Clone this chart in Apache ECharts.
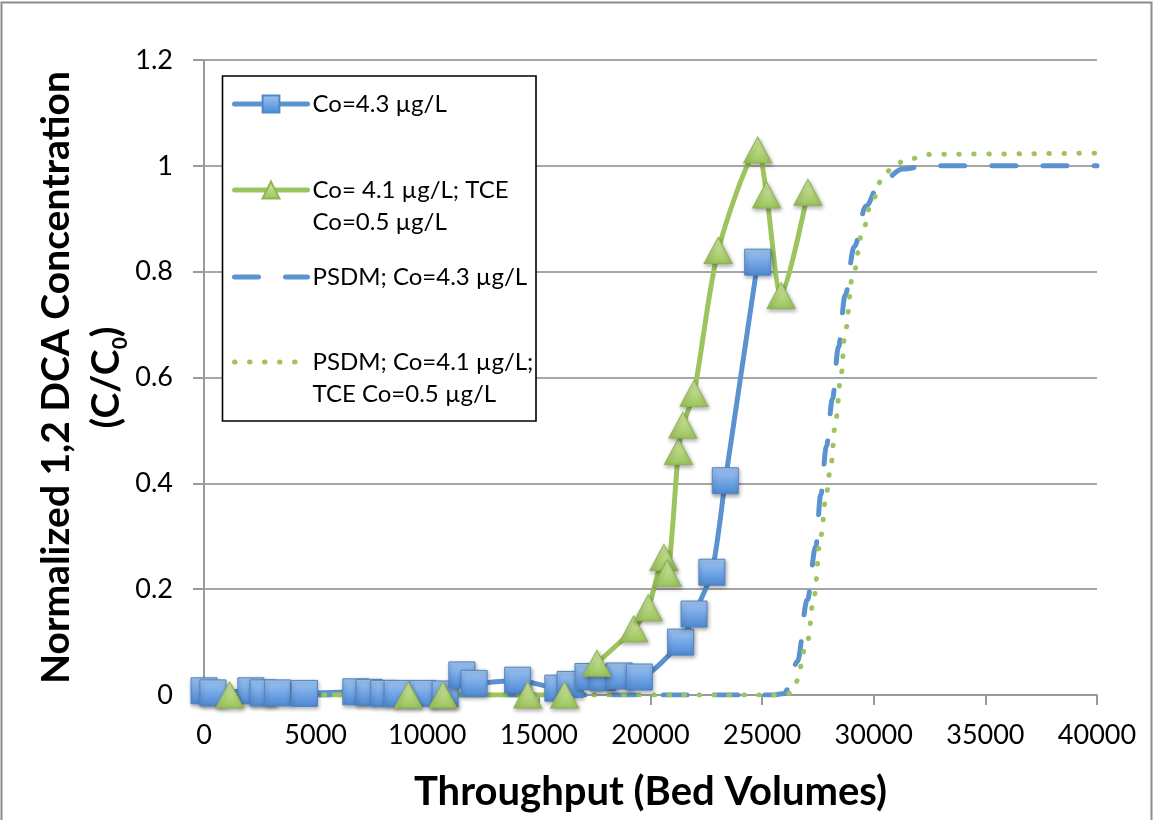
<!DOCTYPE html>
<html><head><meta charset="utf-8">
<script src="https://cdn.jsdelivr.net/npm/echarts@6/dist/echarts.min.js"></script>
<style>html,body{margin:0;padding:0;background:#fff}#c{width:1154px;height:820px}</style>
</head><body><div id="c"></div>
<script>
// ---- data ----
const seriesNames = ['Co=4.3 µg/L', 'Co= 4.1 µg/L; TCE Co=0.5 µg/L', 'PSDM; Co=4.3 µg/L', 'PSDM; Co=4.1 µg/L; TCE Co=0.5 µg/L'];
const legendLabels = ['Co=4.3 µg/L', '\nCo= 4.1 µg/L; TCE\nCo=0.5 µg/L', 'PSDM; Co=4.3 µg/L', '\nPSDM; Co=4.1 µg/L;\nTCE Co=0.5 µg/L'];
const xTicks = [0, 5000, 10000, 15000, 20000, 25000, 30000, 35000, 40000];
const yTicks = [0, 0.2, 0.4, 0.6, 0.8, 1, 1.2];

const blueBV = [0, 400, 2100, 2650, 3300, 4500, 6800, 7400, 8050, 8650, 9800, 10800, 11550, 12100, 14050, 15850, 16400, 17200, 17850, 18600, 19500, 21350, 21950, 22750, 23350, 24800];
const blueC  = [0.008, 0.004, 0.008, 0.004, 0.004, 0.003, 0.006, 0.005, 0.003, 0.003, 0.003, 0.002, 0.038, 0.022, 0.028, 0.013, 0.02, 0.035, 0.033, 0.036, 0.034, 0.10, 0.153, 0.232, 0.405, 0.818];

const greenBV = [1150, 9150, 10700, 14500, 16150, 17600, 19250, 19900, 20600, 20750, 21250, 21450, 21950, 23030, 24800, 25200, 25850, 27050];
const greenC  = [0, 0, 0, 0, 0, 0.06, 0.125, 0.165, 0.26, 0.23, 0.46, 0.51, 0.57, 0.84, 1.03, 0.945, 0.755, 0.95];

const psdmBlueBV = [0, 10000, 20000, 25500, 26000, 26125, 26575, 27025, 27400, 27625, 27880, 28150, 28420, 28720, 29125, 29650, 30250, 31300, 32350, 40000];
const psdmBlueC  = [0, 0, 0, 0, 0.003, 0.01, 0.063, 0.18, 0.28, 0.378, 0.47, 0.56, 0.658, 0.756, 0.847, 0.924, 0.966, 0.994, 1.0, 1.0];

const psdmGreenBV = [0, 10000, 20000, 25800, 26200, 26500, 27025, 27325, 27625, 27880, 28075, 28300, 28525, 28720, 29050, 29500, 29875, 30400, 30850, 31450, 32650, 40000];
const psdmGreenC  = [0, 0, 0, 0, 0.003, 0.024, 0.10, 0.186, 0.30, 0.38, 0.434, 0.52, 0.60, 0.686, 0.79, 0.875, 0.928, 0.977, 0.998, 1.012, 1.022, 1.024];

const zip = (a, b) => a.map((v, i) => [v, b[i]]);

// ---- styles ----
const BLUE = '#5B93D1', GREEN = '#9DC45F', FONT = 'Lato';
const sqFill = {type: 'linear', x: 0, y: 0, x2: 0, y2: 1, colorStops: [{offset: 0, color: '#a3c7f2'}, {offset: 0.5, color: '#74a7e6'}, {offset: 1, color: '#4e88d2'}]};
const trFill = {type: 'linear', x: 0, y: 0, x2: 0, y2: 1, colorStops: [{offset: 0, color: '#d4ecaa'}, {offset: 1, color: '#9cc45a'}]};
const shadow = {shadowBlur: 4, shadowColor: 'rgba(0,0,0,0.35)', shadowOffsetX: 1, shadowOffsetY: 2};

const chart = echarts.init(document.getElementById('c'), null, {renderer: 'canvas'});

function mkLegend(i, top, noSymbol) {
  const lg = {
    data: [seriesNames[i]], orient: 'vertical', left: 232, top: top, padding: 0,
    itemWidth: 73, itemHeight: 21, selectedMode: false,
    formatter: () => legendLabels[i],
    lineStyle: {width: 5, cap: 'round'},
    textStyle: {fontFamily: FONT, fontSize: 24, color: '#000', lineHeight: 32}
  };
  if (noSymbol) lg.itemStyle = {color: 'rgba(0,0,0,0)', borderColor: 'rgba(0,0,0,0)', borderWidth: 0, shadowBlur: 0, shadowColor: 'rgba(0,0,0,0)'};
  return lg;
}

chart.setOption({
  animation: false,
  textStyle: {fontFamily: FONT},
  grid: {left: 204, right: 57, top: 60, bottom: 125, outerBoundsMode: 'none'},
  graphic: [
    {type: 'rect', z: 0, silent: true, shape: {x: 1.5, y: 2.5, width: 1150, height: 830}, style: {fill: 'none', stroke: '#8c8c8c', lineWidth: 2}},
    {type: 'rect', z: 3, silent: true, shape: {x: 222.5, y: 76, width: 313.5, height: 345}, style: {fill: '#fff', stroke: '#000', lineWidth: 1.6}}
  ],
  legend: [mkLegend(0, 88, false), mkLegend(1, 142, false), mkLegend(2, 261, true), mkLegend(3, 314, true)],
  xAxis: {
    type: 'value', min: xTicks[0], max: xTicks[xTicks.length - 1], interval: xTicks[1] - xTicks[0],
    name: 'Throughput (Bed Volumes)', nameLocation: 'middle', nameGap: 77, nameMoveOverlap: false,
    nameTextStyle: {fontFamily: FONT, fontSize: 40, fontWeight: 'bold', color: '#000'},
    axisLine: {show: true, lineStyle: {color: '#9a9a9a', width: 2}},
    axisTick: {show: true, length: 10, lineStyle: {color: '#9a9a9a', width: 2}},
    axisLabel: {margin: 27, fontFamily: FONT, fontSize: 27, color: '#000', formatter: v => String(v)},
    splitLine: {show: false}
  },
  yAxis: {
    type: 'value', min: yTicks[0], max: yTicks[yTicks.length - 1], interval: yTicks[1] - yTicks[0],
    name: 'Normalized 1,2 DCA Concentration\n(C/C{sub|0})', nameLocation: 'middle', nameGap: 73, nameMoveOverlap: false,
    nameTextStyle: {fontFamily: FONT, fontSize: 39, fontWeight: 'bold', color: '#000', lineHeight: 50,
      rich: {sub: {fontFamily: FONT, fontSize: 21, fontWeight: 'bold', color: '#000', verticalAlign: 'bottom', lineHeight: 34}}},
    axisLine: {show: true, lineStyle: {color: '#9a9a9a', width: 2}},
    axisTick: {show: true, length: 11, lineStyle: {color: '#9a9a9a', width: 2}},
    axisLabel: {margin: 31, fontFamily: FONT, fontSize: 27, color: '#000'},
    splitLine: {show: true, lineStyle: {color: '#a6a6a6', width: 2}}
  },
  series: [
    {name: seriesNames[0], type: 'line', data: zip(blueBV, blueC), smooth: 0.25, color: BLUE,
     symbol: 'rect', symbolSize: 26, showSymbol: true,
     lineStyle: {color: BLUE, width: 5},
     itemStyle: Object.assign({color: sqFill, borderColor: '#4f86c6', borderWidth: 1}, shadow)},
    {name: seriesNames[1], type: 'line', data: zip(greenBV, greenC), smooth: 0.25, color: GREEN,
     symbol: 'triangle', symbolSize: [28, 26], showSymbol: true,
     lineStyle: {color: GREEN, width: 5},
     itemStyle: Object.assign({color: trFill, borderColor: '#8fb552', borderWidth: 1}, shadow)},
    {name: seriesNames[2], type: 'line', data: zip(psdmBlueBV, psdmBlueC), smooth: 0.35, smoothMonotone: 'x', color: BLUE,
     symbol: 'none', showSymbol: false,
     lineStyle: {color: BLUE, width: 5, type: [24, 27], cap: 'round'}},
    {name: seriesNames[3], type: 'line', data: zip(psdmGreenBV, psdmGreenC), smooth: 0.35, smoothMonotone: 'x', color: GREEN,
     symbol: 'none', showSymbol: false,
     lineStyle: {color: GREEN, width: 5, type: [0.5, 14.5], cap: 'round'}}
  ]
});
</script></body></html>
